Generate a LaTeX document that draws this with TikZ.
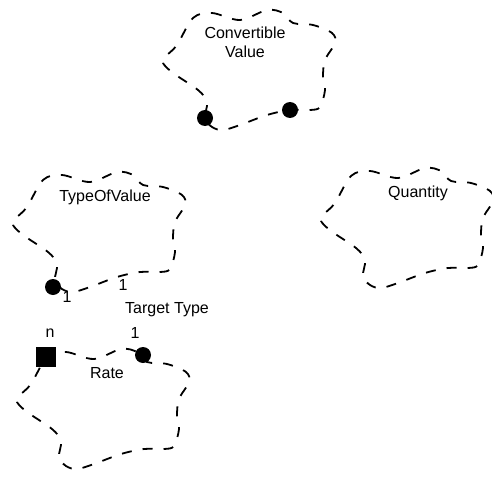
\documentclass[tikz,border=0pt]{standalone}
\usepackage{fontspec}
\setmainfont{Liberation Sans}
\tikzset{
  cloudline/.style={line width=1.8pt, dash pattern=on 10pt off 11pt},
  cloud/.pic={
    \draw[cloudline] plot[smooth cycle, tension=.55] coordinates {
      (-56,-52) (-37,-57) (-9,-50) (18,-60) (34,-57) (44,-47) (64,-45)
      (83,-37) (86,-27) (76,-10) (74,7) (76,20) (71,37) (61,40) (41,40)
      (18,45) (-9,55) (-26,60) (-37,57) (-44,48) (-42,32) (-51,20)
      (-76,3) (-86,-7) (-84,-13) (-72,-25)};
  },
  dotend/.style={circle, fill, inner sep=0pt, minimum size=16pt},
  boxend/.style={rectangle, fill, inner sep=0pt, minimum size=20pt},
  lbl/.style={font=\fontsize{16}{19}\selectfont, align=center, inner sep=1pt}
}
\begin{document}
\begin{tikzpicture}[x=1pt,y=-1pt]
\useasboundingbox (0,0) rectangle (492,476);
% clouds
\pic (cv) at (249,70) {cloud};
\pic (tov) at (99,232) {cloud};
\pic (qty) at (407,228) {cloud};
\pic (rate) at (103,409) {cloud};
\node[lbl] (cvname) at (245,42) {Convertible\\Value};
\node[lbl] (tovname) at (105,197) {TypeOfValue};
\node[lbl] (qtyname) at (418,193) {Quantity};
\node[lbl] (ratename) at (107,373) {Rate};
% ends
\node[dotend] (cvA) at (205,118) {};
\node[dotend] (cvB) at (290,110) {};
\node[dotend] (tovA) at (53,287) {};
\node[dotend] (rateA) at (143,355) {};
\node[boxend] (rateB) at (46,357) {};
% roles
\node[lbl] (tovmul) at (67,297) {1};
\node[lbl] (tgtmul) at (123,285) {1};
\node[lbl] (tgtname) at (167,310) {Target Type};
\node[lbl] (ratemulB) at (50,333) {n};
\node[lbl] (ratemulA) at (135,333) {1};
\end{tikzpicture}
\end{document}
